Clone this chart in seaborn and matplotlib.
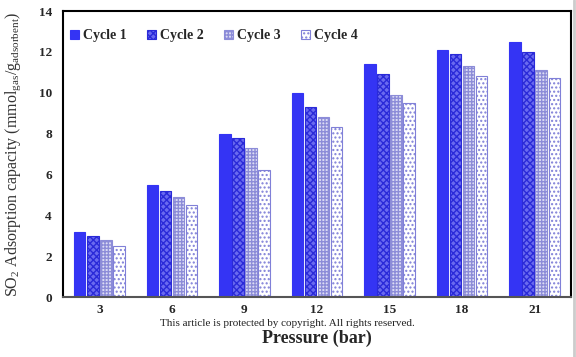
import matplotlib
matplotlib.use("Agg")
import matplotlib.pyplot as plt
import seaborn as sns
import pandas as pd
from matplotlib.patches import Patch

pressures = ["3", "6", "9", "12", "15", "18", "21"]
cycles = ["Cycle 1", "Cycle 2", "Cycle 3", "Cycle 4"]
cycle1 = [3.2, 5.5, 8.0, 10.0, 11.4, 12.1, 12.5]
cycle2 = [3.0, 5.2, 7.8, 9.3, 10.9, 11.9, 12.0]
cycle3 = [2.8, 4.9, 7.3, 8.8, 9.9, 11.3, 11.1]
cycle4 = [2.5, 4.5, 6.2, 8.3, 9.5, 10.8, 10.7]

rows = []
for c, vals in zip(cycles, [cycle1, cycle2, cycle3, cycle4]):
    for p, v in zip(pressures, vals):
        rows.append({"Pressure": p, "Cycle": c, "Value": v})
df = pd.DataFrame(rows)

sns.set_style("white")
plt.rcParams["font.family"] = ["Liberation Serif", "DejaVu Serif"]
plt.rcParams["mathtext.fontset"] = "custom"
plt.rcParams["mathtext.rm"] = "Liberation Serif"
plt.rcParams["mathtext.it"] = "Liberation Serif"
plt.rcParams["mathtext.bf"] = "Liberation Serif:bold"

fig = plt.figure(figsize=(5.76, 3.57), dpi=100)
ax = fig.add_axes([63/576, 1-297/357, (571-63)/576, (297-11)/357])

faces = ["#3434f4", "#6a6af0", "#dcdcf4", "#ffffff"]
edges = ["#3434f4", "#2a2ad8", "#8c8cd8", "#8080d8"]
hatches = [None, "xxxxx", "+++++", "...."]

sns.barplot(data=df, x="Pressure", y="Value", hue="Cycle", order=pressures,
            hue_order=cycles, palette=faces, width=0.72, gap=0.12,
            saturation=1, ax=ax, legend=False)

for i, cont in enumerate(ax.containers):
    for bar in cont:
        bar.set_facecolor(faces[i])
        bar.set_edgecolor(edges[i])
        bar.set_linewidth(0.8)
        if hatches[i]:
            bar.set_hatch(hatches[i])

handles = [Patch(facecolor=faces[i], edgecolor=edges[i], hatch=hatches[i], linewidth=0.8)
           for i in range(4)]
ax.legend(handles, cycles, loc="upper left", ncol=4, frameon=False,
          bbox_to_anchor=(-0.01, 0.98), handlelength=0.6, handleheight=0.6,
          handletextpad=0.3, columnspacing=1.5,
          prop={"family": "Liberation Serif", "weight": "bold", "size": 10})

ax.set_ylim(0, 14)
ax.set_yticks(range(0, 15, 2))
ax.set_xlim(-0.5, 6.5)
for lab in ax.get_xticklabels() + ax.get_yticklabels():
    lab.set_fontweight("bold")
    lab.set_fontsize(9.5)
ax.tick_params(axis="x", length=0, pad=5)
ax.tick_params(axis="y", length=0, pad=8)

for s in ["left", "top", "right"]:
    ax.spines[s].set_color("black")
    ax.spines[s].set_linewidth(1.5)
ax.spines["bottom"].set_color("#555555")
ax.spines["bottom"].set_linewidth(1.5)

ax.set_xlabel("Pressure (bar)", fontsize=13, fontweight="bold", labelpad=10)
ax.set_ylabel(r"SO$_2$ Adsorption capacity (mmol$_{\mathrm{gas}}$/g$_{\mathrm{adsorbent}}$)",
              fontsize=11.5, color="#333333")
ax.yaxis.set_label_coords(-0.078, 0.5)

fig.text(287/576, 1-324/357, "This article is protected by copyright. All rights reserved.",
         ha="center", va="center", fontsize=8, color="#222222")

fig.add_artist(plt.Line2D([574/576, 574/576], [0, 1], color="#cccccc", lw=2,
                          transform=fig.transFigure))

fig.savefig("out.png", dpi=100)
